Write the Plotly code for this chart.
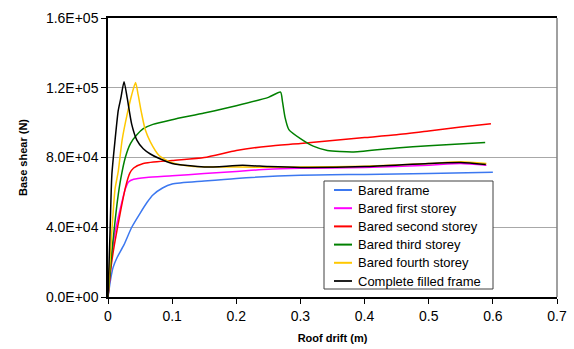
import plotly.graph_objects as go

# ---- data ----
bared_frame_x = [0, 0.004, 0.008, 0.014, 0.025, 0.037, 0.05, 0.061, 0.07, 0.085, 0.1, 0.15, 0.2, 0.3, 0.4, 0.5, 0.6]
bared_frame_y = [0, 10000, 17000, 22500, 30000, 40000, 48000, 54300, 58500, 62500, 64800, 66500, 68000, 69800, 70300, 70800, 71500]

first_x = [0, 0.005, 0.01, 0.02, 0.027, 0.032, 0.04, 0.06, 0.1, 0.15, 0.2, 0.25, 0.3, 0.4, 0.5, 0.55, 0.59]
first_y = [0, 20000, 35000, 52000, 62000, 66000, 67500, 68500, 69500, 70800, 72000, 73300, 73800, 74300, 75600, 76500, 75500]

second_x = [0, 0.005, 0.01, 0.02, 0.028, 0.034, 0.04, 0.055, 0.1, 0.15, 0.2, 0.25, 0.3, 0.35, 0.4, 0.45, 0.5, 0.55, 0.597]
second_y = [0, 18000, 30000, 50000, 64000, 71000, 74000, 76600, 78300, 80000, 84000, 86500, 88000, 89800, 91400, 93000, 95200, 97500, 99400]

third_x = [0, 0.005, 0.01, 0.015, 0.02, 0.027, 0.035, 0.045, 0.055, 0.07, 0.1, 0.15, 0.2, 0.25, 0.269, 0.272, 0.276, 0.282, 0.3, 0.32, 0.342, 0.383, 0.45, 0.5, 0.588]
third_y = [0, 22000, 40000, 56000, 68000, 80000, 88000, 93000, 96500, 99000, 101700, 105500, 109700, 114500, 117500, 112000, 103000, 96000, 90800, 86500, 84000, 83200, 85500, 86800, 88600]

fourth_x = [0, 0.005, 0.011, 0.016, 0.022, 0.03, 0.037, 0.043, 0.047, 0.052, 0.058, 0.066, 0.08, 0.1, 0.13, 0.2, 0.3, 0.4, 0.5, 0.55, 0.59]
fourth_y = [0, 32000, 62000, 72000, 90000, 105000, 116000, 123000, 116000, 106000, 96000, 89000, 81000, 77000, 75000, 74500, 74500, 75000, 76500, 77500, 76500]

filled_x = [0, 0.003, 0.006, 0.011, 0.016, 0.02, 0.025, 0.03, 0.037, 0.045, 0.055, 0.066, 0.08, 0.1, 0.15, 0.21, 0.25, 0.3, 0.4, 0.5, 0.55, 0.589]
filled_y = [0, 35000, 70000, 90000, 107000, 114000, 123500, 114000, 99000, 90000, 85000, 82000, 79400, 76600, 74500, 75500, 74800, 74300, 74800, 76600, 77100, 76000]

series_names = ["Bared frame", "Bared first storey", "Bared second storey",
                "Bared third storey", "Bared fourth storey", "Complete filled frame"]

x_ticks = [0, 0.1, 0.2, 0.3, 0.4, 0.5, 0.6, 0.7]
x_tick_text = ["0", "0.1", "0.2", "0.3", "0.4", "0.5", "0.6", "0.7"]
y_ticks = [0, 40000, 80000, 120000, 160000]
y_tick_text = ["0.0E+00", "4.0E+04", "8.0E+04", "1.2E+05", "1.6E+05"]

colors = ["#3c78f0", "#ff00ff", "#ff0000", "#008000", "#ffc800", "#000000"]
xs = [bared_frame_x, first_x, second_x, third_x, fourth_x, filled_x]
ys = [bared_frame_y, first_y, second_y, third_y, fourth_y, filled_y]

W, H = 574, 349
ML, MR, MT, MB = 108, 17, 18, 52
PW, PH = W - ML - MR, H - MT - MB


def px_x(p):  # pixel -> paper x
    return (p - ML) / PW


def px_y(p):  # pixel -> paper y
    return (H - MB - p) / PH


fig = go.Figure()
for name, c, x, y in zip(series_names, colors, xs, ys):
    fig.add_trace(go.Scatter(x=x, y=y, mode="lines", name=name, showlegend=False,
                             line=dict(color=c, width=1.5, shape="spline", smoothing=0.6)))

font_family = "Liberation Sans, Arial, sans-serif"
fig.update_layout(
    width=W, height=H,
    margin=dict(l=ML, r=MR, t=MT, b=MB, autoexpand=False),
    paper_bgcolor="white", plot_bgcolor="white",
    font=dict(family=font_family, color="#000000"),
    showlegend=False,
    xaxis=dict(range=[0, 0.7], tickvals=x_ticks, ticktext=x_tick_text,
               showgrid=False, zeroline=False, showline=True, linecolor="black",
               linewidth=1.5, mirror=True, ticks="outside", ticklen=5, tickcolor="black",
               tickfont=dict(size=14), automargin=False,
               title=dict(text="<b>Roof drift (m)</b>", font=dict(size=11), standoff=12)),
    yaxis=dict(range=[0, 160000], tickvals=y_ticks, ticktext=y_tick_text,
               showgrid=True, gridcolor="#a8a8a8", gridwidth=1, zeroline=False,
               showline=True, linecolor="black", linewidth=1.5,
               ticks="outside", ticklen=5, tickcolor="black",
               tickfont=dict(size=14), automargin=False,
               title=dict(text="<b>Base shear (N)</b>", font=dict(size=11), standoff=16)),
)
# right border of plot area
fig.add_shape(type="line", xref="paper", yref="paper", x0=1, x1=1, y0=0, y1=1,
              line=dict(color="#808080", width=1.5))

# legend box (drawn manually to match the reference's compact layout)
fig.add_shape(type="rect", xref="paper", yref="paper",
              x0=px_x(324), x1=px_x(493), y0=px_y(289), y1=px_y(181),
              fillcolor="white", line=dict(color="#404040", width=1), layer="above")
item_y0, item_dy = 190, 18.2
for i, (name, c) in enumerate(zip(series_names, colors)):
    yy = px_y(item_y0 + i * item_dy)
    fig.add_shape(type="line", xref="paper", yref="paper",
                  x0=px_x(334), x1=px_x(352), y0=yy, y1=yy,
                  line=dict(color=c if c != "#000000" else "#202020", width=2), layer="above")
    fig.add_annotation(xref="paper", yref="paper", x=px_x(356), y=yy,
                       xanchor="left", yanchor="middle", showarrow=False,
                       text=name, font=dict(size=13, family=font_family, color="black"))

fig.write_html("out.html")
